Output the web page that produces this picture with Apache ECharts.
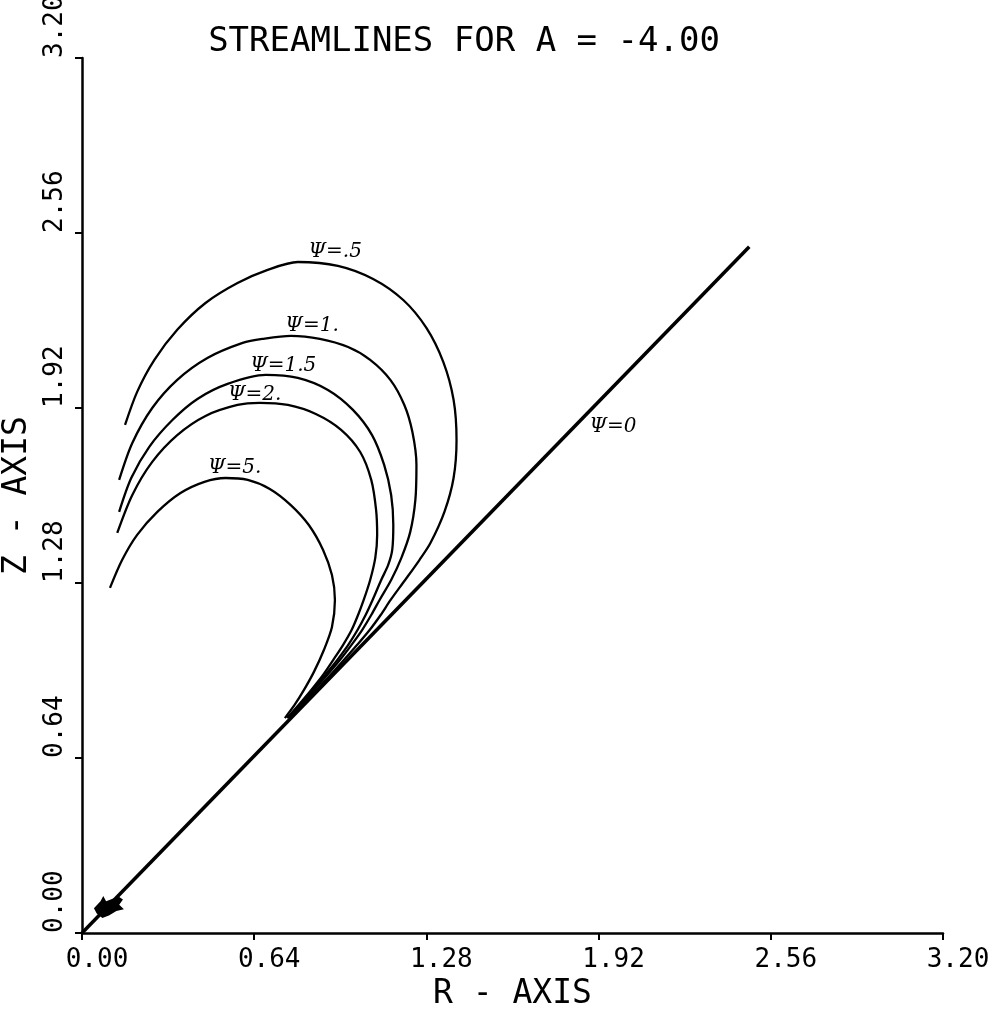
<!DOCTYPE html>
<html>
<head>
<meta charset="utf-8">
<title>Streamlines for A = -4.00</title>
<script src="https://cdn.jsdelivr.net/npm/echarts@6/dist/echarts.min.js"></script>
<style>
  html, body { margin: 0; padding: 0; background: #fff; }
  #chart { width: 1005px; height: 1013px; }
</style>
</head>
<body>
<div id="chart"></div>
<script>
// axis range (same for R and Z)
const axisMin = 0;
const axisMax = 3.2;
const axisStep = 0.64;

// streamlines, [r, z] pairs
const psi0 = [[0, 0], [2.48, 2.51]];
const psi05 = [[0.160,1.858],[0.205,1.979],[0.269,2.096],[0.354,2.206],[0.459,2.304],[0.578,2.377],[0.690,2.425],[0.802,2.454],[0.951,2.440],[1.082,2.392],[1.194,2.315],[1.280,2.213],[1.343,2.088],[1.381,1.950],[1.392,1.803],[1.381,1.664],[1.347,1.540],[1.295,1.426],[1.254,1.364],[1.201,1.291],[1.147,1.218],[1.110,1.163],[1.069,1.108],[1.022,1.053],[0.974,0.999],[0.924,0.944],[0.872,0.889],[0.819,0.834],[0.781,0.794]];
const psi1 = [[0.138,1.657],[0.187,1.792],[0.261,1.920],[0.354,2.023],[0.466,2.103],[0.597,2.158],[0.672,2.173],[0.776,2.184],[0.884,2.173],[0.989,2.143],[1.071,2.096],[1.146,2.023],[1.198,1.931],[1.228,1.832],[1.243,1.712],[1.239,1.584],[1.220,1.467],[1.187,1.372],[1.149,1.291],[1.106,1.218],[1.075,1.163],[1.041,1.108],[1.001,1.053],[0.959,0.999],[0.912,0.944],[0.863,0.889],[0.813,0.834],[0.769,0.786]];
const psi15 = [[0.138,1.540],[0.183,1.664],[0.250,1.778],[0.336,1.876],[0.429,1.953],[0.541,2.008],[0.683,2.041],[0.802,2.030],[0.914,1.986],[1.007,1.913],[1.078,1.821],[1.123,1.712],[1.149,1.602],[1.157,1.492],[1.153,1.401],[1.138,1.346],[1.112,1.291],[1.080,1.218],[1.054,1.163],[1.024,1.108],[0.989,1.053],[0.949,0.999],[0.904,0.944],[0.858,0.889],[0.809,0.834],[0.766,0.786]];
const psi2 = [[0.131,1.463],[0.187,1.602],[0.261,1.723],[0.354,1.821],[0.459,1.891],[0.578,1.931],[0.660,1.939],[0.765,1.931],[0.869,1.898],[0.963,1.840],[1.034,1.759],[1.075,1.657],[1.093,1.547],[1.097,1.456],[1.090,1.372],[1.071,1.291],[1.047,1.218],[1.026,1.163],[1.002,1.108],[0.970,1.053],[0.934,0.999],[0.896,0.944],[0.852,0.889],[0.805,0.834],[0.762,0.786]];
const psi5 = [[0.104,1.262],[0.149,1.364],[0.205,1.456],[0.280,1.540],[0.366,1.609],[0.455,1.650],[0.534,1.664],[0.616,1.657],[0.698,1.624],[0.776,1.565],[0.843,1.492],[0.896,1.401],[0.929,1.309],[0.940,1.218],[0.929,1.119],[0.899,1.035],[0.862,0.955],[0.825,0.889],[0.790,0.834],[0.754,0.786]];

// hand written curve labels and where they sit
const labelText = ['Ψ=.5', 'Ψ=1.', 'Ψ=1.5', 'Ψ=2.', 'Ψ=5.', 'Ψ=0'];
const labelR = [0.840, 0.754, 0.623, 0.541, 0.466, 1.884];
const labelZ = [2.454, 2.184, 2.037, 1.931, 1.664, 1.814];

// ink blot near the origin
const blot = [[0.10, 0.095]];

const mono = '"DejaVu Sans Mono", "Liberation Mono", monospace';

const curve = (name, data, width) => ({
  name: name,
  type: 'line',
  data: data,
  showSymbol: false,
  smooth: width > 2.5 ? false : 0.3,
  lineStyle: { color: '#000', width: width },
  silent: true
});

const chart = echarts.init(document.getElementById('chart'));

chart.setOption({
  animation: false,
  backgroundColor: '#fff',
  title: {
    text: 'STREAMLINES FOR A = -4.00',
    left: 459,
    top: 20,
    textAlign: 'center',
    textStyle: { fontFamily: mono, fontSize: 34, fontWeight: 'normal', color: '#000' }
  },
  grid: { left: 82, right: 62, top: 58, bottom: 80, containLabel: false, outerBoundsMode: 'none' },
  xAxis: {
    type: 'value',
    min: axisMin,
    max: axisMax,
    interval: axisStep,
    name: 'R - AXIS',
    nameLocation: 'middle',
    nameGap: 40,
    nameTextStyle: { fontFamily: mono, fontSize: 33, color: '#000' },
    axisLine: { show: true, lineStyle: { color: '#000', width: 2.5 } },
    axisTick: { show: true, length: 7, lineStyle: { color: '#000', width: 2 } },
    axisLabel: {
      fontFamily: mono, fontSize: 26, color: '#000', margin: 14,
      padding: [0, 0, 0, 30],
      formatter: v => v.toFixed(2)
    },
    splitLine: { show: false }
  },
  yAxis: {
    type: 'value',
    min: axisMin,
    max: axisMax,
    interval: axisStep,
    name: 'Z - AXIS',
    nameLocation: 'middle',
    nameRotate: 90,
    nameGap: 40,
    nameTextStyle: { fontFamily: mono, fontSize: 33, color: '#000' },
    axisLine: { show: true, lineStyle: { color: '#000', width: 2.5 } },
    axisTick: { show: true, length: 7, lineStyle: { color: '#000', width: 2 } },
    axisLabel: {
      fontFamily: mono, fontSize: 26, color: '#000', margin: 14,
      rotate: 90, align: 'left', verticalAlign: 'bottom',
      formatter: v => v.toFixed(2)
    },
    splitLine: { show: false }
  },
  series: [
    curve('Ψ=0', psi0, 3.5),
    curve('Ψ=.5', psi05, 2.3),
    curve('Ψ=1', psi1, 2.3),
    curve('Ψ=1.5', psi15, 2.3),
    curve('Ψ=2', psi2, 2.3),
    curve('Ψ=5', psi5, 2.3),
    {
      name: 'labels',
      type: 'scatter',
      symbolSize: 1,
      itemStyle: { color: 'rgba(0,0,0,0)', opacity: 1 },
      silent: true,
      data: labelText.map((t, i) => [labelR[i], labelZ[i], t]),
      label: {
        show: true,
        position: 'right',
        distance: 0,
        align: 'left',
        verticalAlign: 'bottom',
        fontFamily: '"DejaVu Serif", "Liberation Serif", serif',
        fontStyle: 'italic',
        fontSize: 20,
        color: '#000',
        opacity: 1,
        formatter: p => p.data[2]
      }
    },
    {
      name: 'blot',
      type: 'scatter',
      silent: true,
      symbol: 'path://M0,14 L7,6 L10,0 L13,6 L20,3 L27,1 L31,4 L27,10 L32,15 L24,17 L16,22 L9,25 L3,20 Z',
      symbolSize: [30, 22],
      itemStyle: { color: '#000', opacity: 1 },
      data: blot
    }
  ]
});
</script>
</body>
</html>
